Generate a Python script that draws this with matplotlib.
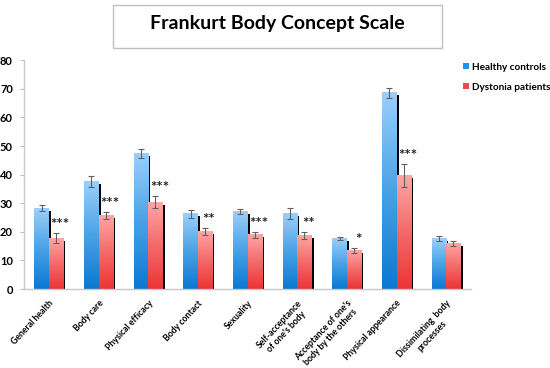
import matplotlib
matplotlib.use("Agg")
import matplotlib.pyplot as plt
import numpy as np
from matplotlib.patches import Rectangle, Patch
from matplotlib.colors import LinearSegmentedColormap
import matplotlib.transforms as mtransforms

plt.rcParams['font.family'] = ['Lato', 'DejaVu Sans']

categories = ["General health", "Body care", "Physical efficacy", "Body contact",
              "Sexuality", "Self-acceptance\nof one's body",
              "Acceptance of one's\nbody by the others", "Physical appearance",
              "Dissimilating  body\nprocesses"]
healthy = [28.3, 37.6, 47.4, 26.3, 27.2, 26.5, 17.7, 68.6, 17.8]
healthy_err = [1.0, 2.0, 1.5, 1.4, 0.8, 2.0, 0.6, 1.7, 0.9]
dystonia = [17.8, 25.7, 30.3, 20.1, 19.0, 18.7, 13.4, 39.7, 15.8]
dystonia_err = [1.7, 1.1, 2.1, 1.3, 1.1, 1.2, 0.9, 4.0, 0.9]
significance = ["***", "***", "***", "**", "***", "**", "*", "***", ""]
yticks = [0, 10, 20, 30, 40, 50, 60, 70, 80]

fig = plt.figure(figsize=(5.5, 3.68), dpi=100)
ax = fig.add_axes([24/550, 1-289/368, 447/550, (289-60.3)/368])

blue_cmap = LinearSegmentedColormap.from_list("b", ["#0a78d2", "#4aa2e6", "#9ccffa"])
red_cmap = LinearSegmentedColormap.from_list("r", ["#ec3434", "#f46a6a", "#ffa6a6"])
grad = np.linspace(0, 1, 256).reshape(-1, 1)

w = 0.29
x = np.arange(len(categories))
shadow_tr = mtransforms.offset_copy(ax.transData, fig=fig, x=2.0, y=-2.5, units='dots')

def draw_bars(xs, vals, errs, cmap):
    for xi, v, e in zip(xs, vals, errs):
        x0 = xi - w/2
        sh = Rectangle((x0, 0), w, v, facecolor='black', edgecolor='none',
                       transform=shadow_tr, zorder=1)
        ax.add_patch(sh)
        ax.imshow(grad, cmap=cmap, origin='lower', aspect='auto',
                  extent=[x0, x0 + w, 0, v], zorder=2, interpolation='bicubic')
        ax.errorbar(xi, v, yerr=e, color='#606060', capsize=2.2, elinewidth=0.8,
                    capthick=0.8, zorder=4, fmt='none')

draw_bars(x - w/2, healthy, healthy_err, blue_cmap)
draw_bars(x + w/2, dystonia, dystonia_err, red_cmap)

for xi, d, de, s in zip(x, dystonia, dystonia_err, significance):
    if s:
        ax.text(xi + w/2 + 0.08, d + de + 2.8, s, ha='center', va='center',
                fontsize=11, fontweight='bold', color='#222222')

ax.set_xlim(-0.5, len(categories) - 0.5)
ax.set_ylim(0, 80)
ax.set_yticks(yticks)
ax.set_yticklabels([str(t) for t in yticks], fontsize=8, fontweight='bold')
ax.set_xticks(x)
ax.set_xticklabels(categories, rotation=47, ha='right', rotation_mode='anchor',
                   fontsize=6.3, fontweight='bold', multialignment='center')
ax.tick_params(axis='x', length=0, pad=7)
ax.tick_params(axis='y', length=3, color='#bfbfbf', pad=5)
for sp in ['top', 'right']:
    ax.spines[sp].set_visible(False)
for sp in ['left', 'bottom']:
    ax.spines[sp].set_color('#c8c8c8')
    ax.spines[sp].set_linewidth(1.0)

handles = [Patch(facecolor='#2a8ee0', label='Healthy controls'),
           Patch(facecolor='#f04848', label='Dystonia patients')]
fig.legend(handles=handles, loc='upper left', bbox_to_anchor=(459/550, 1-59/368),
           frameon=False, prop={'weight': 'bold', 'size': 7.2},
           handlelength=0.55, handleheight=0.55, handletextpad=0.4, labelspacing=1.05,
           borderaxespad=0)

box = Rectangle((113/550, 1-48/368), (442-113)/550, 43/368, transform=fig.transFigure,
                facecolor='white', edgecolor='#c0c0c0', linewidth=1.0)
fig.patches.append(box)
fig.text(277/550, 1-23/368, "Frankurt Body Concept Scale", ha='center', va='center',
         fontsize=14, fontweight='bold')

fig.savefig("out.png", dpi=100)
